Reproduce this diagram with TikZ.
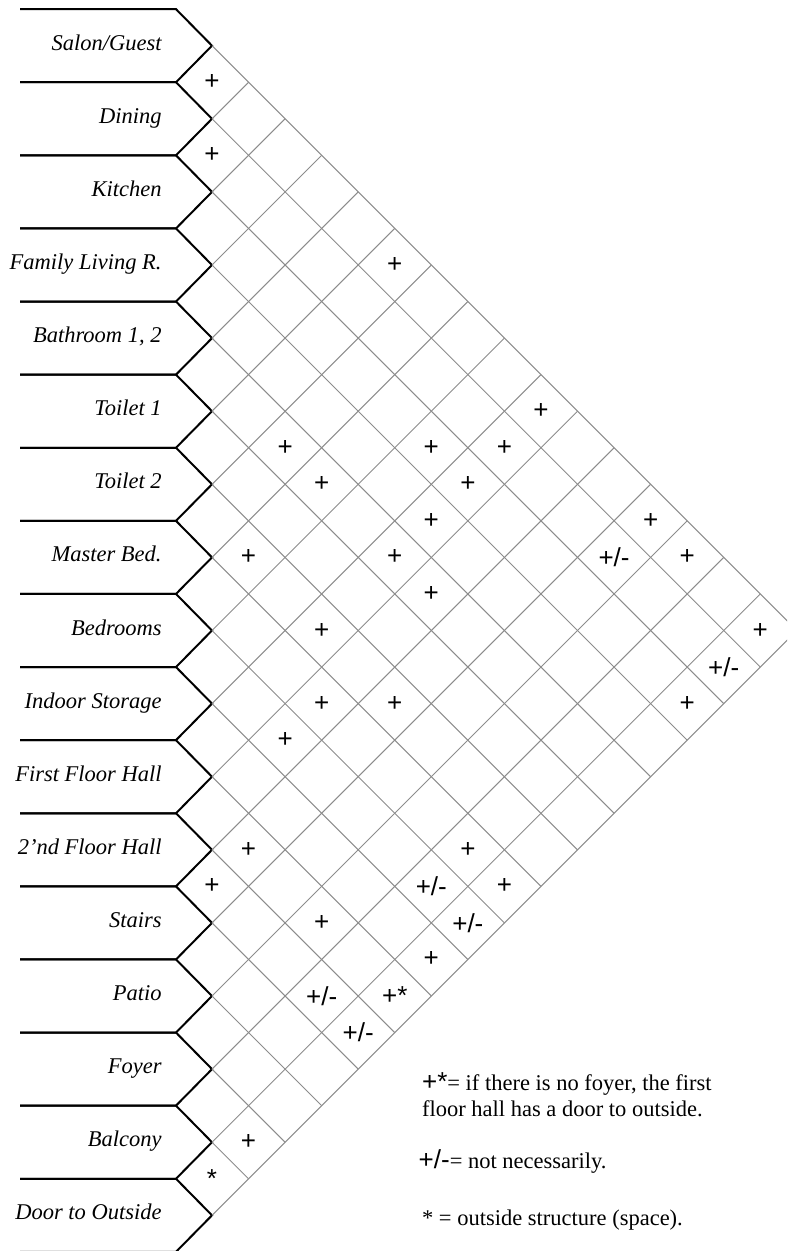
\documentclass[tikz,border=0pt]{standalone}
\usepackage{fontspec}
\setmainfont{Liberation Serif}
\setsansfont{Liberation Sans}
\usetikzlibrary{positioning}

\begin{document}
\begin{tikzpicture}[x=0.5pt, y=-0.5pt,
  room/.style={anchor=base east, inner sep=0pt, font=\fontsize{11.25}{13}\selectfont\itshape},
  link/.style={inner sep=0pt, font=\fontsize{13}{15}\selectfont\sffamily},
  note/.style={anchor=base west, inner sep=0pt, font=\fontsize{11.25}{13}\selectfont},
  lattice/.style={draw=black!45, line width=0.5pt},
  border/.style={draw=black, line width=1pt}]
  \clip (0,0) rectangle (787,1251);
  \foreach \name [count=\i] in {Salon/Guest, Dining, Kitchen, Family Living R., {Bathroom 1, 2}, Toilet 1, Toilet 2, Master Bed., Bedrooms, Indoor Storage, First Floor Hall, 2'nd Floor Hall, Stairs, Patio, Foyer, Balcony, Door to Outside} {
    \coordinate (p\i) at (212, {45.7+(\i-1)*73.1});
    \node[room] (room\i) at (162, {50.2+(\i-1)*73.1}) {\name};
    \draw[border] (20, {9.15+(\i-1)*73.1}) -- (176, {9.15+(\i-1)*73.1}) -- (p\i) -- (176, {82.25+(\i-1)*73.1}) -- (20, {82.25+(\i-1)*73.1});
    \draw[lattice] (p\i) -- ++({(17-\i)*36.55}, {(17-\i)*36.55});
    \draw[lattice] (p\i) -- ++({(\i-1)*36.55}, {-(\i-1)*36.55});
  }

  \foreach \i/\j in {1/2, 2/3, 1/7, 1/11, 1/14, 1/15, 1/17, 2/11, 3/10, 3/11, 3/17, 4/11, 5/8, 5/9, 5/11, 5/12, 7/9, 7/11, 7/13, 8/12, 8/16, 8/17, 9/12, 10/17, 11/13, 11/15, 12/13, 15/17}
    \node[link] (link\i-\j) at ({212+(\j-\i-1)*36.55}, {45.7+(\i+\j-2)*36.55}) {+};
  \foreach \i/\j in {2/14, 2/17, 9/16, 9/17, 12/16, 12/17}
    \node[link] (link\i-\j) at ({212+(\j-\i-1)*36.55}, {45.7+(\i+\j-2)*36.55}) {+/-};
  \node[link] (link11-17) at ({212+5*36.55}, {45.7+26*36.55}) {+*};
  \node[link] (link16-17) at (212, {45.7+31*36.55}) {*};

  \node[note] (note1) at (421.7, 1090) {{\sffamily\fontsize{13}{15}\selectfont +*}= if there is no foyer, the first};
  \node[note, below=13pt of note1.base west, anchor=base west] (note2) {floor hall has a door to outside.};
  \node[note] (note3) at (418.3, 1168.3) {{\sffamily\fontsize{13}{15}\selectfont +/-}= not necessarily.};
  \node[note] (note4) at (421.7, 1225) {* = outside structure (space).};
\end{tikzpicture}
\end{document}
